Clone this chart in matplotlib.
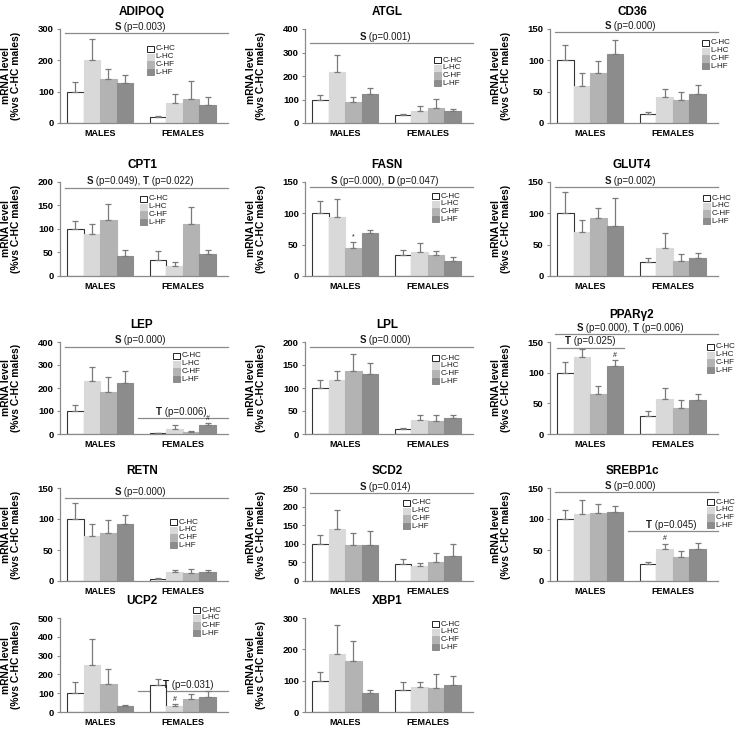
import matplotlib
matplotlib.use("Agg")
import matplotlib.pyplot as plt
from matplotlib.patches import Rectangle
from matplotlib.offsetbox import TextArea, HPacker, AnnotationBbox
import numpy as np

plt.rcParams['font.family'] = ['Liberation Sans', 'DejaVu Sans']

W, H = 738, 747

GROUPS = ["C-HC", "L-HC", "C-HF", "L-HF"]
SEXES = ["MALES", "FEMALES"]
COLORS = ["#ffffff", "#d9d9d9", "#b3b3b3", "#8c8c8c"]
EDGES = ["#333333", "#d9d9d9", "#b3b3b3", "#8c8c8c"]

# means: males C-HC, L-HC, C-HF, L-HF, then females; err = upper SEM
ADIPOQ_MEAN = [100, 200, 140, 127, 18, 63, 76, 59]
ADIPOQ_ERR = [30, 68, 33, 26, 4, 30, 59, 24]
ATGL_MEAN = [100, 218, 90, 125, 32, 53, 62, 52]
ATGL_ERR = [18, 72, 20, 22, 8, 19, 41, 6]
CD36_MEAN = [100, 59, 79, 110, 15, 41, 36, 47]
CD36_ERR = [24, 21, 20, 22, 2, 13, 14, 14]
CPT1_MEAN = [100, 90, 120, 42, 35, 22, 110, 47]
CPT1_ERR = [18, 20, 33, 13, 18, 8, 36, 9]
FASN_MEAN = [100, 94, 45, 69, 33, 38, 34, 24]
FASN_ERR = [19, 29, 10, 5, 8, 15, 6, 6]
GLUT4_MEAN = [100, 71, 93, 80, 22, 45, 24, 28]
GLUT4_ERR = [34, 18, 16, 44, 6, 23, 11, 9]
LEP_MEAN = [100, 230, 182, 220, 3, 22, 10, 40]
LEP_ERR = [27, 60, 68, 55, 2, 15, 5, 6]
LPL_MEAN = [100, 118, 138, 131, 10, 31, 28, 35]
LPL_ERR = [17, 18, 35, 24, 3, 11, 14, 6]
PPARG2_MEAN = [100, 125, 65, 111, 29, 57, 43, 55]
PPARG2_ERR = [18, 13, 13, 9, 8, 18, 13, 10]
RETN_MEAN = [100, 73, 78, 92, 4, 14, 13, 14]
RETN_ERR = [26, 19, 20, 14, 1, 4, 6, 3]
SCD2_MEAN = [100, 140, 96, 98, 45, 40, 50, 67]
SCD2_ERR = [23, 52, 33, 37, 14, 9, 26, 32]
SREBP1C_MEAN = [100, 108, 110, 111, 27, 51, 39, 51]
SREBP1C_ERR = [14, 22, 15, 10, 3, 9, 10, 10]
UCP2_MEAN = [100, 250, 150, 30, 145, 30, 70, 80]
UCP2_ERR = [60, 140, 80, 5, 30, 10, 25, 30]
XBP1_MEAN = [100, 185, 162, 62, 70, 80, 78, 85]
XBP1_ERR = [28, 93, 66, 8, 25, 15, 44, 30]


def S(p):
    return [("S", True), (f" (p={p})", False)]


def T(p):
    return [("T", True), (f" (p={p})", False)]


PANELS = [
    dict(title="ADIPOQ", mean=ADIPOQ_MEAN, err=ADIPOQ_ERR, ymax=300, step=100,
         stats=[("all", 287, S("0.003"))], marks=[], leg=(147, 49)),
    dict(title="ATGL", mean=ATGL_MEAN, err=ATGL_ERR, ymax=400, step=100,
         stats=[("all", 339, S("0.001"))], marks=[], leg=(434, 60)),
    dict(title="CD36", mean=CD36_MEAN, err=CD36_ERR, ymax=150, step=50,
         stats=[("all", 145, S("0.000"))], marks=[], leg=(702, 43)),
    dict(title="CPT1", mean=CPT1_MEAN, err=CPT1_ERR, ymax=200, step=50,
         stats=[("all", 188, [("S", True), (" (p=0.049), ", False)] + T("0.022"))],
         marks=[], leg=(140, 199)),
    dict(title="FASN", mean=FASN_MEAN, err=FASN_ERR, ymax=150, step=50,
         stats=[("all", 142, [("S", True), (" (p=0.000), ", False), ("D", True), (" (p=0.047)", False)])],
         marks=[(2, "*")], leg=(432, 196)),
    dict(title="GLUT4", mean=GLUT4_MEAN, err=GLUT4_ERR, ymax=150, step=50,
         stats=[("all", 142, S("0.002"))], marks=[], leg=(703, 198)),
    dict(title="LEP", mean=LEP_MEAN, err=LEP_ERR, ymax=400, step=100,
         stats=[("all", 380, S("0.000")), ("females", 70, T("0.006"))],
         marks=[(7, "#")], leg=(173, 356)),
    dict(title="LPL", mean=LPL_MEAN, err=LPL_ERR, ymax=200, step=50,
         stats=[("all", 190, S("0.000"))], marks=[], leg=(432, 358)),
    dict(title="PPAR\u03b32", mean=PPARG2_MEAN, err=PPARG2_ERR, ymax=150, step=50,
         stats=[("all", 163, [("S", True), (" (p=0.000), ", False), ("T", True), (" (p=0.006)", False)]),
                ("males", 141, T("0.025"))],
         marks=[(3, "#")], leg=(707, 347), title_dy=-10),
    dict(title="RETN", mean=RETN_MEAN, err=RETN_ERR, ymax=150, step=50,
         stats=[("all", 134, S("0.000"))], marks=[], leg=(170, 522)),
    dict(title="SCD2", mean=SCD2_MEAN, err=SCD2_ERR, ymax=250, step=50,
         stats=[("all", 236, S("0.014"))], marks=[], leg=(403, 503)),
    dict(title="SREBP1c", mean=SREBP1C_MEAN, err=SREBP1C_ERR, ymax=150, step=50,
         stats=[("all", 143, S("0.000")), ("females", 80, T("0.045"))],
         marks=[(5, "#")], leg=(707, 502)),
    dict(title="UCP2", mean=UCP2_MEAN, err=UCP2_ERR, ymax=500, step=100,
         stats=[("females", 112, T("0.031"), 6.85)], marks=[(5, "#")], leg=(193, 610)),
    dict(title="XBP1", mean=XBP1_MEAN, err=XBP1_ERR, ymax=300, step=100,
         stats=[], marks=[], leg=(432, 624)),
]

COL_LEFT = [60, 305, 550]
ROWS = [(29, 123), (182, 276), (342, 434), (488, 581), (618, 712)]
AX_W = 168
XL = (-0.92, 9.23)
XPOS = [0, 1, 2, 3, 5, 6, 7, 8]
GRAY = "#8a8a8a"


def stat_label(ax, x, y, pieces):
    areas = [TextArea(s, textprops=dict(fontsize=7, color="#1a1a1a",
                                        fontweight="bold" if b else "normal"))
             for s, b in pieces]
    box = HPacker(children=areas, align="baseline", pad=0, sep=0)
    ab = AnnotationBbox(box, (x, y), xycoords="data", xybox=(0, 1.0),
                        boxcoords="offset points", box_alignment=(0.5, 0),
                        frameon=False, pad=0, annotation_clip=False)
    ax.add_artist(ab)


def draw_legend(fig, x, yc):
    for i, (lab, fc, ec) in enumerate(zip(GROUPS, COLORS, EDGES)):
        y = yc + i * 7.7
        fig.add_artist(Rectangle((x / W, 1 - (y + 3.3) / H), 6.5 / W, 6.5 / H,
                                 transform=fig.transFigure, facecolor=fc,
                                 edgecolor=ec if i else "#222222", lw=0.7))
        fig.text((x + 8.5) / W, 1 - y / H, lab, fontsize=5.8, va="center",
                 ha="left", color="#1a1a1a")


fig = plt.figure(figsize=(W / 100, H / 100), dpi=100)

for k, p in enumerate(PANELS):
    r, c = divmod(k, 3)
    top, bot = ROWS[r]
    left = COL_LEFT[c]
    ax = fig.add_axes([left / W, 1 - bot / H, AX_W / W, (bot - top) / H])

    ax.bar(XPOS, p["mean"], width=1.0, color=COLORS * 2, edgecolor=EDGES * 2,
           linewidth=0.8, zorder=2)
    ax.errorbar(XPOS, p["mean"], yerr=[[0] * 8, p["err"]], fmt="none",
                ecolor="#7a7a7a", elinewidth=0.9, capsize=2.5, capthick=0.9, zorder=3)

    ax.set_xlim(*XL)
    ax.set_ylim(0, p["ymax"])
    ax.set_yticks(np.arange(0, p["ymax"] + 1, p["step"]))
    ax.set_xticks([1.5, 6.5])
    ax.set_xticklabels(SEXES, fontsize=6.5, fontweight="bold")
    for lbl in ax.get_yticklabels():
        lbl.set_fontweight("bold")
    ax.tick_params(axis="y", labelsize=6.8, length=2.5, width=0.8, color=GRAY, pad=2)
    ax.tick_params(axis="x", length=0, pad=4)
    for s in ("top", "right"):
        ax.spines[s].set_visible(False)
    for s in ("left", "bottom"):
        ax.spines[s].set_color(GRAY)
        ax.spines[s].set_linewidth(0.9)

    ax.set_ylabel("mRNA level\n(%vs C-HC males)", fontsize=7.4, fontweight="bold",
                  linespacing=0.95)
    ax.yaxis.set_label_coords(-0.235, 0.5)

    for st in p["stats"]:
        span, y, pieces = st[:3]
        if span == "all":
            x0, x1, xt = -0.6, XL[1], 3.9
        elif span == "females":
            x0, x1, xt = 3.8, XL[1], 6.4
        else:
            x0, x1, xt = -0.5, 3.55, 1.5
        if len(st) > 3:
            xt = st[3]
        ax.plot([x0, x1], [y, y], color=GRAY, lw=0.9, clip_on=False, zorder=1)
        stat_label(ax, xt, y, pieces)

    for i, m in p["marks"]:
        ax.annotate(m, (XPOS[i], p["mean"][i] + p["err"][i]), xytext=(0, 1),
                    textcoords="offset points", ha="center", va="bottom",
                    fontsize=5, color="#1a1a1a")

    ty = top - 17 + p.get("title_dy", 0)
    fig.text((left + 82) / W, 1 - ty / H, p["title"], fontsize=8.5,
             fontweight="bold", ha="center", va="center")

    draw_legend(fig, *p["leg"])

fig.savefig("out.png", dpi=100)
